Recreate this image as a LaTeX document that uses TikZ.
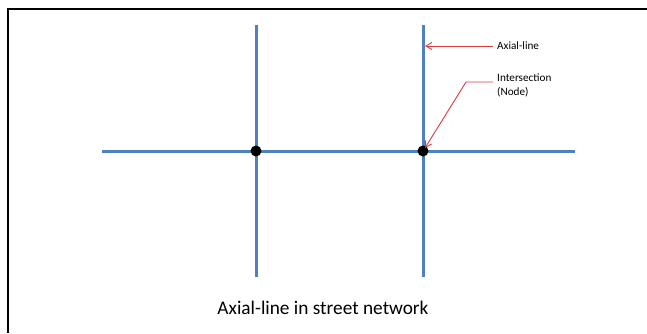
\documentclass[tikz,border=0pt]{standalone}
\usepackage{fontspec}
\setmainfont{Carlito}
\usepackage{xcolor}
\usetikzlibrary{arrows.meta}
\definecolor{streetblue}{RGB}{79,129,189}
\definecolor{callred}{RGB}{220,60,60}

\begin{document}
\begin{tikzpicture}[x=1pt, y=1pt,
        street/.style={line width=3pt, streetblue},
        callout/.style={callred, line width=0.9pt, -{Straight Barb[length=6pt, width=7pt]}},
        label/.style={font=\fontsize{11.2}{13.5}\selectfont, inner sep=0pt, anchor=west, align=left}]
        \useasboundingbox (0,0) rectangle (647,333);

        % Frame --  --  --  --  --  --  --  --  --  --  --  --  --  --  --
        \draw[line width=2.5pt] (8,0) -- (8,324) -- (647,324);

        % Streets --  --  --  --  --  --  --  --  --  --  --  --  --  --  
        \coordinate (w) at (102,182);
        \coordinate (e) at (575,182);
        \draw[street] (w) -- (e);
        \foreach \name/\x in {a/256, b/423} {
            \coordinate (\name top) at (\x,308);
            \coordinate (\name bot) at (\x,56);
            \coordinate (\name) at (\x,182);
            \draw[street] (\name top) -- (\name bot);
        }

        % Intersections
        \fill (a) circle (5.5pt);
        \fill (b) circle (5.5pt);

        % Labels --  --  --  --  --  --  --  --  --  --  --  --  --  --  
        \node[label] (axial) at (497,287) {Axial-line};
        \node[label, anchor=north west] (inter) at (497,259) {Intersection\\(Node)};

        \coordinate (hit) at (425,287);
        \coordinate (bend) at (466,251);
        \draw[callout] (axial.west) ++(-4,0) -- (hit);
        \draw[callout] (inter.north west) ++(-4,-8) -- (bend) -- ([shift={(2,3)}]b);

        % Caption
        \node[font=\fontsize{19.3}{23}\selectfont] (caption) at (323,25) {Axial-line in street network};
\end{tikzpicture}
\end{document}
